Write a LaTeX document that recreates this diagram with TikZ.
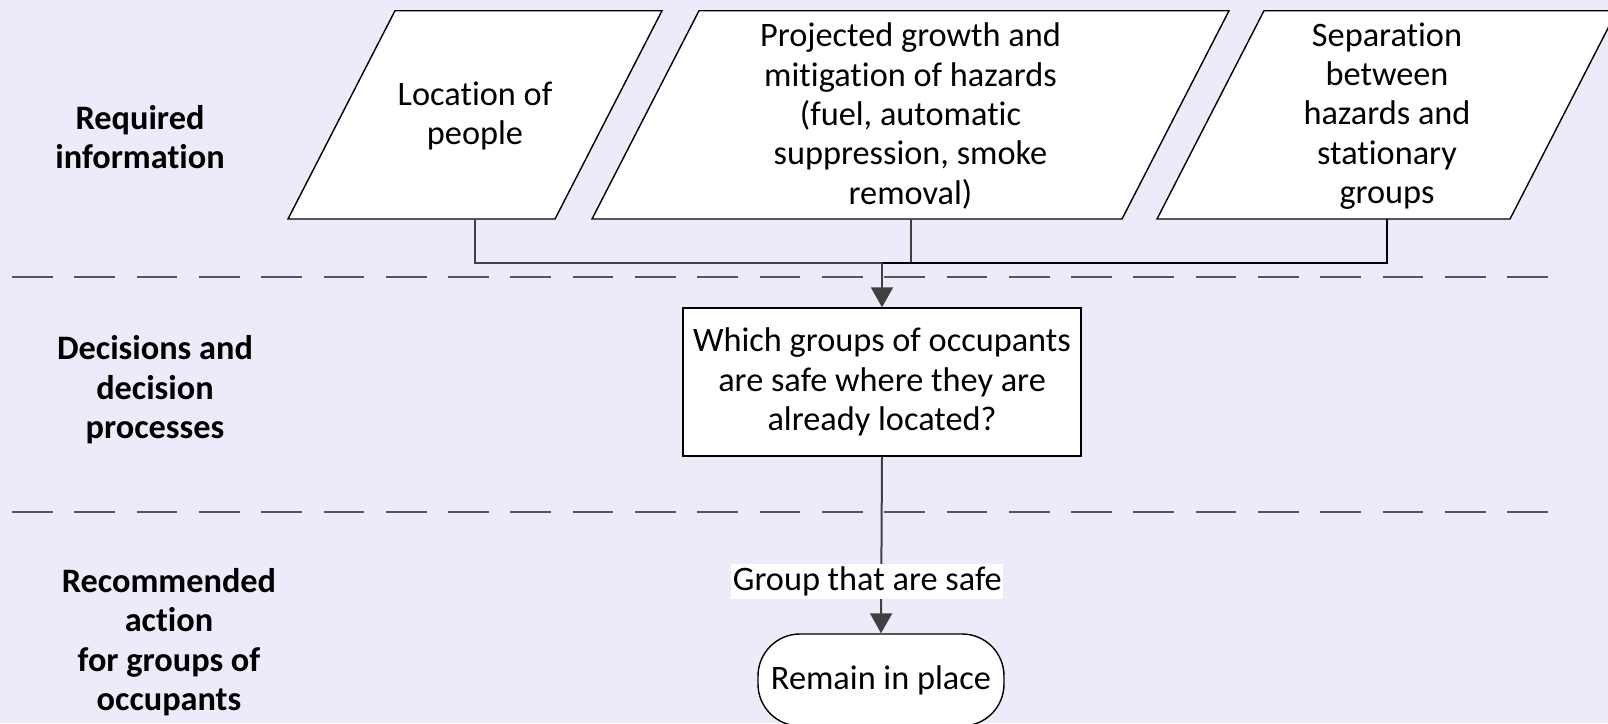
\documentclass[tikz,border=0pt]{standalone}
\usepackage{fontspec}
\setmainfont{Carlito}[Ligatures=NoCommon]
\usetikzlibrary{arrows.meta}
\definecolor{bgpage}{RGB}{235,235,250}
\definecolor{wire}{RGB}{64,64,64}
\definecolor{sepgray}{RGB}{85,85,85}
\begin{document}
\begin{tikzpicture}[x=1pt,y=-1pt,
  txt/.style={font=\fontsize{34.3}{39.4}\selectfont, align=center, inner sep=0pt},
  lane/.style={font=\fontsize{34.3}{39.4}\selectfont\bfseries, align=center, inner sep=0pt},
  inbox/.style={draw=black, fill=white, line width=1.4pt, line join=miter},
  wirel/.style={draw=wire, line width=2pt},
  wirek/.style={draw=black, line width=2.4pt},
  tip/.style={-{Triangle[width=22pt,length=20pt]}},
  sepline/.style={draw=sepgray, line width=2.6pt, dash pattern=on 40.7pt off 21.6pt},
  decision/.style={txt, inbox, minimum width=398pt, minimum height=148pt},
  terminal/.style={txt, inbox, rounded corners=42pt, minimum width=246pt, minimum height=92pt},
  edgelabel/.style={txt, fill=white, inner xsep=1.5pt, inner ysep=3pt}]

\useasboundingbox (0,0) rectangle (1608,723);
\clip (0,0) rectangle (1608,723);
\fill[bgpage] (0,0) rectangle (1608,723);

% lane separators
\draw[sepline] (12,277) -- (1548,277);
\draw[sepline] (12,512) -- (1548,512);

% lane titles
\node[lane] (lane1) at (140,137) {Required\\information};
\node[lane] (lane2) at (155,390) {Decisions and\\decision\\processes};
\node[lane] (lane3) at (169,642) {Recommended\\action\\for groups of\\occupants};

% input parallelograms
\filldraw[inbox] (395,10.7) -- (662,10.7) -- (555,219) -- (288,219) -- cycle;
\filldraw[inbox] (699,10.7) -- (1229,10.7) -- (1122,219) -- (592,219) -- cycle;
\filldraw[inbox] (1264,10.7) -- (1617,10.7) -- (1510,219) -- (1157,219) -- cycle;

\node[txt] (loc) at (475,116) {Location of\\people};
\node[txt] (growth) at (910.5,116) {Projected growth and\\mitigation of hazards\\(fuel, automatic\\suppression, smoke\\removal)};
\node[txt] (separ) at (1387,116) {Separation\\between\\hazards and\\stationary\\groups};

\coordinate (locb) at (475,219);
\coordinate (growthb) at (910.5,219);
\coordinate (separb) at (1387,219);
\coordinate (junc) at (882,263);

% decision and outcome
\node[decision] (safe) at (882,382) {Which groups of occupants\\are safe where they are\\already located?};
\node[terminal] (remain) at (881,680) {Remain in place};

% connectors
\draw[wirel] (locb) |- (junc);
\draw[wirel] (growthb) -- (growthb |- junc);
\draw[wirek] (separb) |- (junc);
\draw[wirel, tip] (junc) -- (safe.north);
\draw[wirel, tip] (safe.south) -- node[edgelabel, pos=0.708, xshift=-14pt] {Group that are safe} (remain.north);

\end{tikzpicture}
\end{document}
